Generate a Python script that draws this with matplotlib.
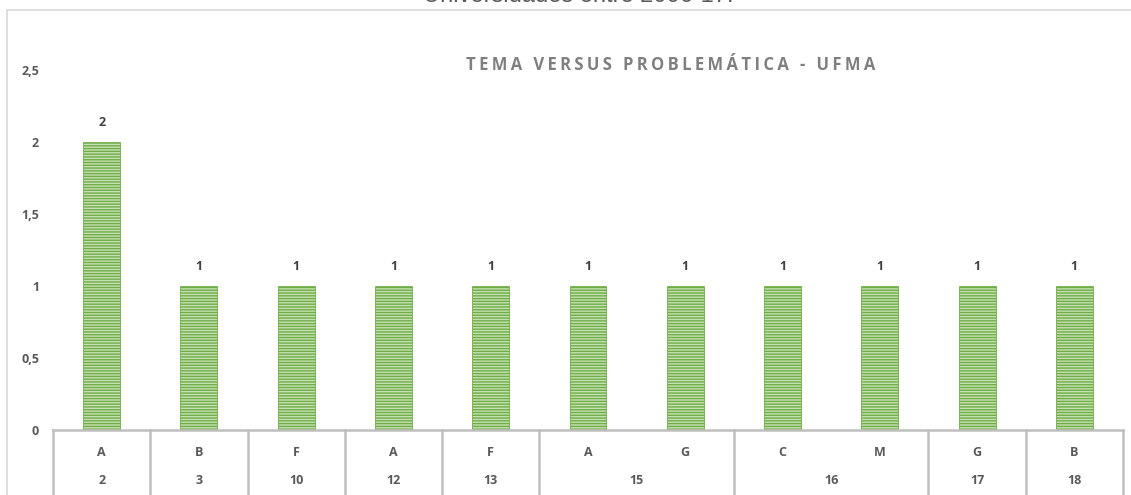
import matplotlib.pyplot as plt
import matplotlib.patches as mpatches
import matplotlib.transforms as mtransforms

# Data
temas = ["A", "B", "F", "A", "F", "A", "G", "C", "M", "G", "B"]
problematicas = ["2", "3", "10", "12", "13", "15", "15", "16", "16", "17", "18"]
valores = [2, 1, 1, 1, 1, 1, 1, 1, 1, 1, 1]
yticks = [0, 0.5, 1, 1.5, 2, 2.5]
ytick_labels = ["0", "0,5", "1", "1,5", "2", "2,5"]
titulo = "TEMA VERSUS PROBLEMÁTICA - UFMA"

plt.rcParams['hatch.color'] = '#70ad47'
plt.rcParams['hatch.linewidth'] = 1.0
plt.rcParams['font.family'] = ['Open Sans', 'DejaVu Sans']

fig = plt.figure(figsize=(11.31, 4.95), dpi=100)
W, H = 1131, 495

# outer chart border (light gray), cropped at right/bottom
fig.patches.append(mpatches.Rectangle((7 / W, -0.1), 1.2, 1 - 10 / H + 0.1,
                                      transform=fig.transFigure, fill=False,
                                      edgecolor='#d9d9d9', linewidth=1.2))

# cropped heading at the very top
fig.text(578 / W, 1 + 4 / H, "Universidades entre 2006-17.", ha='center', va='center',
         fontsize=17, color='#595959', family=['Liberation Sans', 'DejaVu Sans'])

ax = fig.add_axes([53 / W, 1 - 430 / H, (1123 - 53) / W, (430 - 70) / H])
x = list(range(len(valores)))
bars = ax.bar(x, valores, width=0.38, color='#c5e0b3', edgecolor='#70ad47',
              linewidth=0.6, hatch='------')
for xi, v in zip(x, valores):
    ax.text(xi, v + 0.09, str(v), ha='center', va='bottom', fontsize=9,
            fontweight='bold', color='#404040')

ax.set_xlim(-0.5, len(valores) - 0.5)
ax.set_ylim(0, 2.5)
ax.set_yticks(yticks)
ax.set_yticklabels(ytick_labels, fontsize=9, fontweight='bold', color='#595959')
ax.tick_params(axis='y', length=0, pad=10)
ax.set_xticks([])
for s in ax.spines.values():
    s.set_visible(False)

# multi-level category axis
trans = mtransforms.blended_transform_factory(ax.transData, ax.transAxes)
ax.plot([-0.5, len(valores) - 0.5], [0, 0], color='#bfbfbf', linewidth=1.8,
        transform=trans, clip_on=False)
bottom = -0.4
for xi, t in zip(x, temas):
    ax.text(xi, -22 / 360, t, ha='center', va='center', fontsize=9,
            fontweight='bold', color='#595959', transform=trans)

groups = []
for i, p in enumerate(problematicas):
    if groups and groups[-1][0] == p:
        groups[-1][2] = i
    else:
        groups.append([p, i, i])
for p, a, b in groups:
    ax.text((a + b) / 2, -51 / 360, p, ha='center', va='center', fontsize=9,
            fontweight='bold', color='#595959', transform=trans)
    ax.plot([a - 0.5, a - 0.5], [0, bottom], color='#bfbfbf', linewidth=1.8,
            transform=trans, clip_on=False)
ax.plot([len(valores) - 0.5] * 2, [0, bottom], color='#bfbfbf', linewidth=1.8,
        transform=trans, clip_on=False)

# spaced-out chart title
fig.text(671 / W, 1 - 65 / H, "\u2009".join(titulo), ha='center',
         va='center', fontsize=12, fontweight='bold', color='#7f7f7f')

fig.savefig("out.png", dpi=100)
